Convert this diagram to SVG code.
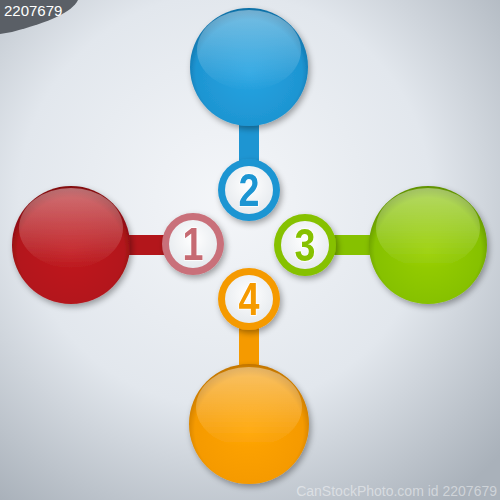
<svg xmlns="http://www.w3.org/2000/svg" width="500" height="500" viewBox="0 0 500 500">
<defs>
<radialGradient id="bg" cx="0.45" cy="0.4" r="0.75">
<stop offset="0" stop-color="#f4f6f9"/>
<stop offset="0.55" stop-color="#e2e7ed"/>
<stop offset="1" stop-color="#a9b1ba"/>
</radialGradient>
<radialGradient id="gBlue" cx="0.5" cy="0.55" r="0.55">
<stop offset="0" stop-color="#27a4e2"/>
<stop offset="0.82" stop-color="#1e95d2"/>
<stop offset="1" stop-color="#0f6fa5"/>
</radialGradient>
<radialGradient id="gRed" cx="0.5" cy="0.55" r="0.55">
<stop offset="0" stop-color="#c11a1f"/>
<stop offset="0.82" stop-color="#b3161b"/>
<stop offset="1" stop-color="#7f0c10"/>
</radialGradient>
<radialGradient id="gGreen" cx="0.5" cy="0.55" r="0.55">
<stop offset="0" stop-color="#98cf00"/>
<stop offset="0.82" stop-color="#86c100"/>
<stop offset="1" stop-color="#5e8f00"/>
</radialGradient>
<radialGradient id="gOrange" cx="0.5" cy="0.55" r="0.55">
<stop offset="0" stop-color="#ffa400"/>
<stop offset="0.82" stop-color="#f59a00"/>
<stop offset="1" stop-color="#c07400"/>
</radialGradient>
<linearGradient id="gloss" x1="0" y1="0" x2="0" y2="1">
<stop offset="0" stop-color="#fff" stop-opacity="0.4"/>
<stop offset="1" stop-color="#fff" stop-opacity="0"/>
</linearGradient>
<radialGradient id="inner" cx="0.5" cy="0.4" r="0.6">
<stop offset="0" stop-color="#ffffff"/>
<stop offset="1" stop-color="#e6eaee"/>
</radialGradient>
<filter id="sh" x="-20%" y="-20%" width="140%" height="140%">
<feGaussianBlur in="SourceAlpha" stdDeviation="3"/>
<feOffset dx="2" dy="3"/>
<feComponentTransfer><feFuncA type="linear" slope="0.35"/></feComponentTransfer>
<feMerge><feMergeNode/><feMergeNode in="SourceGraphic"/></feMerge>
</filter>
</defs>
<style>
.num{font-family:"Liberation Sans",Arial,sans-serif;font-weight:bold;font-size:46px;text-anchor:middle;stroke:#ffffff;stroke-width:1.5;paint-order:stroke}
.wm{font-family:"Liberation Sans",Arial,sans-serif}
.gl{fill:url(#gloss)}
</style>
<rect width="500" height="500" fill="url(#bg)"/>

<g id="connectors">
<rect x="239" y="120" width="20" height="44" fill="#1e95d2"/>
<rect x="124" y="235" width="42" height="20" fill="#b3161b"/>
<rect x="333" y="235" width="42" height="20" fill="#86c100"/>
<rect x="239" y="326" width="20" height="44" fill="#f59a00"/>
</g>

<g id="node-blue" filter="url(#sh)">
<circle cx="249" cy="67" r="59" fill="url(#gBlue)"/>
<ellipse cx="249" cy="50" rx="52" ry="40" class="gl"/>
</g>
<g id="node-red" filter="url(#sh)">
<circle cx="71" cy="245" r="59" fill="url(#gRed)"/>
<ellipse cx="71" cy="228" rx="52" ry="40" class="gl"/>
</g>
<g id="node-green" filter="url(#sh)">
<circle cx="428" cy="245" r="59" fill="url(#gGreen)"/>
<ellipse cx="428" cy="228" rx="52" ry="40" class="gl"/>
</g>
<g id="node-orange" filter="url(#sh)">
<circle cx="249" cy="424" r="60" fill="url(#gOrange)"/>
<ellipse cx="249" cy="407" rx="53" ry="40" class="gl"/>
</g>

<g id="badge-2" filter="url(#sh)">
<circle cx="249" cy="190" r="31" fill="#1e95d2"/>
<circle cx="249" cy="190" r="24" fill="url(#inner)"/>
<text class="num" fill="#1e95d2" transform="translate(249 206) scale(0.82 1)">2</text>
</g>
<g id="badge-1" filter="url(#sh)">
<circle cx="193" cy="244" r="31" fill="#c9707a"/>
<circle cx="193" cy="244" r="24" fill="url(#inner)"/>
<text class="num" fill="#c66a72" transform="translate(193 260) scale(0.82 1)">1</text>
</g>
<g id="badge-3" filter="url(#sh)">
<circle cx="305" cy="245" r="31" fill="#86c100"/>
<circle cx="305" cy="245" r="24" fill="url(#inner)"/>
<text class="num" fill="#86c100" transform="translate(305 261) scale(0.82 1)">3</text>
</g>
<g id="badge-4" filter="url(#sh)">
<circle cx="249" cy="299" r="31" fill="#f59a00"/>
<circle cx="249" cy="299" r="24" fill="url(#inner)"/>
<text class="num" fill="#f59a00" transform="translate(249 315) scale(0.82 1)">4</text>
</g>

<path d="M0 0 H78 C72 12 50 22 12 32 L0 34 Z" fill="#5a5f66"/>
<text x="4" y="16" class="wm" font-size="15" fill="#ffffff">2207679</text>
<text x="497" y="496" class="wm" font-size="14" fill="#ffffff" fill-opacity="0.45" text-anchor="end">CanStockPhoto.com id 2207679</text>
</svg>
